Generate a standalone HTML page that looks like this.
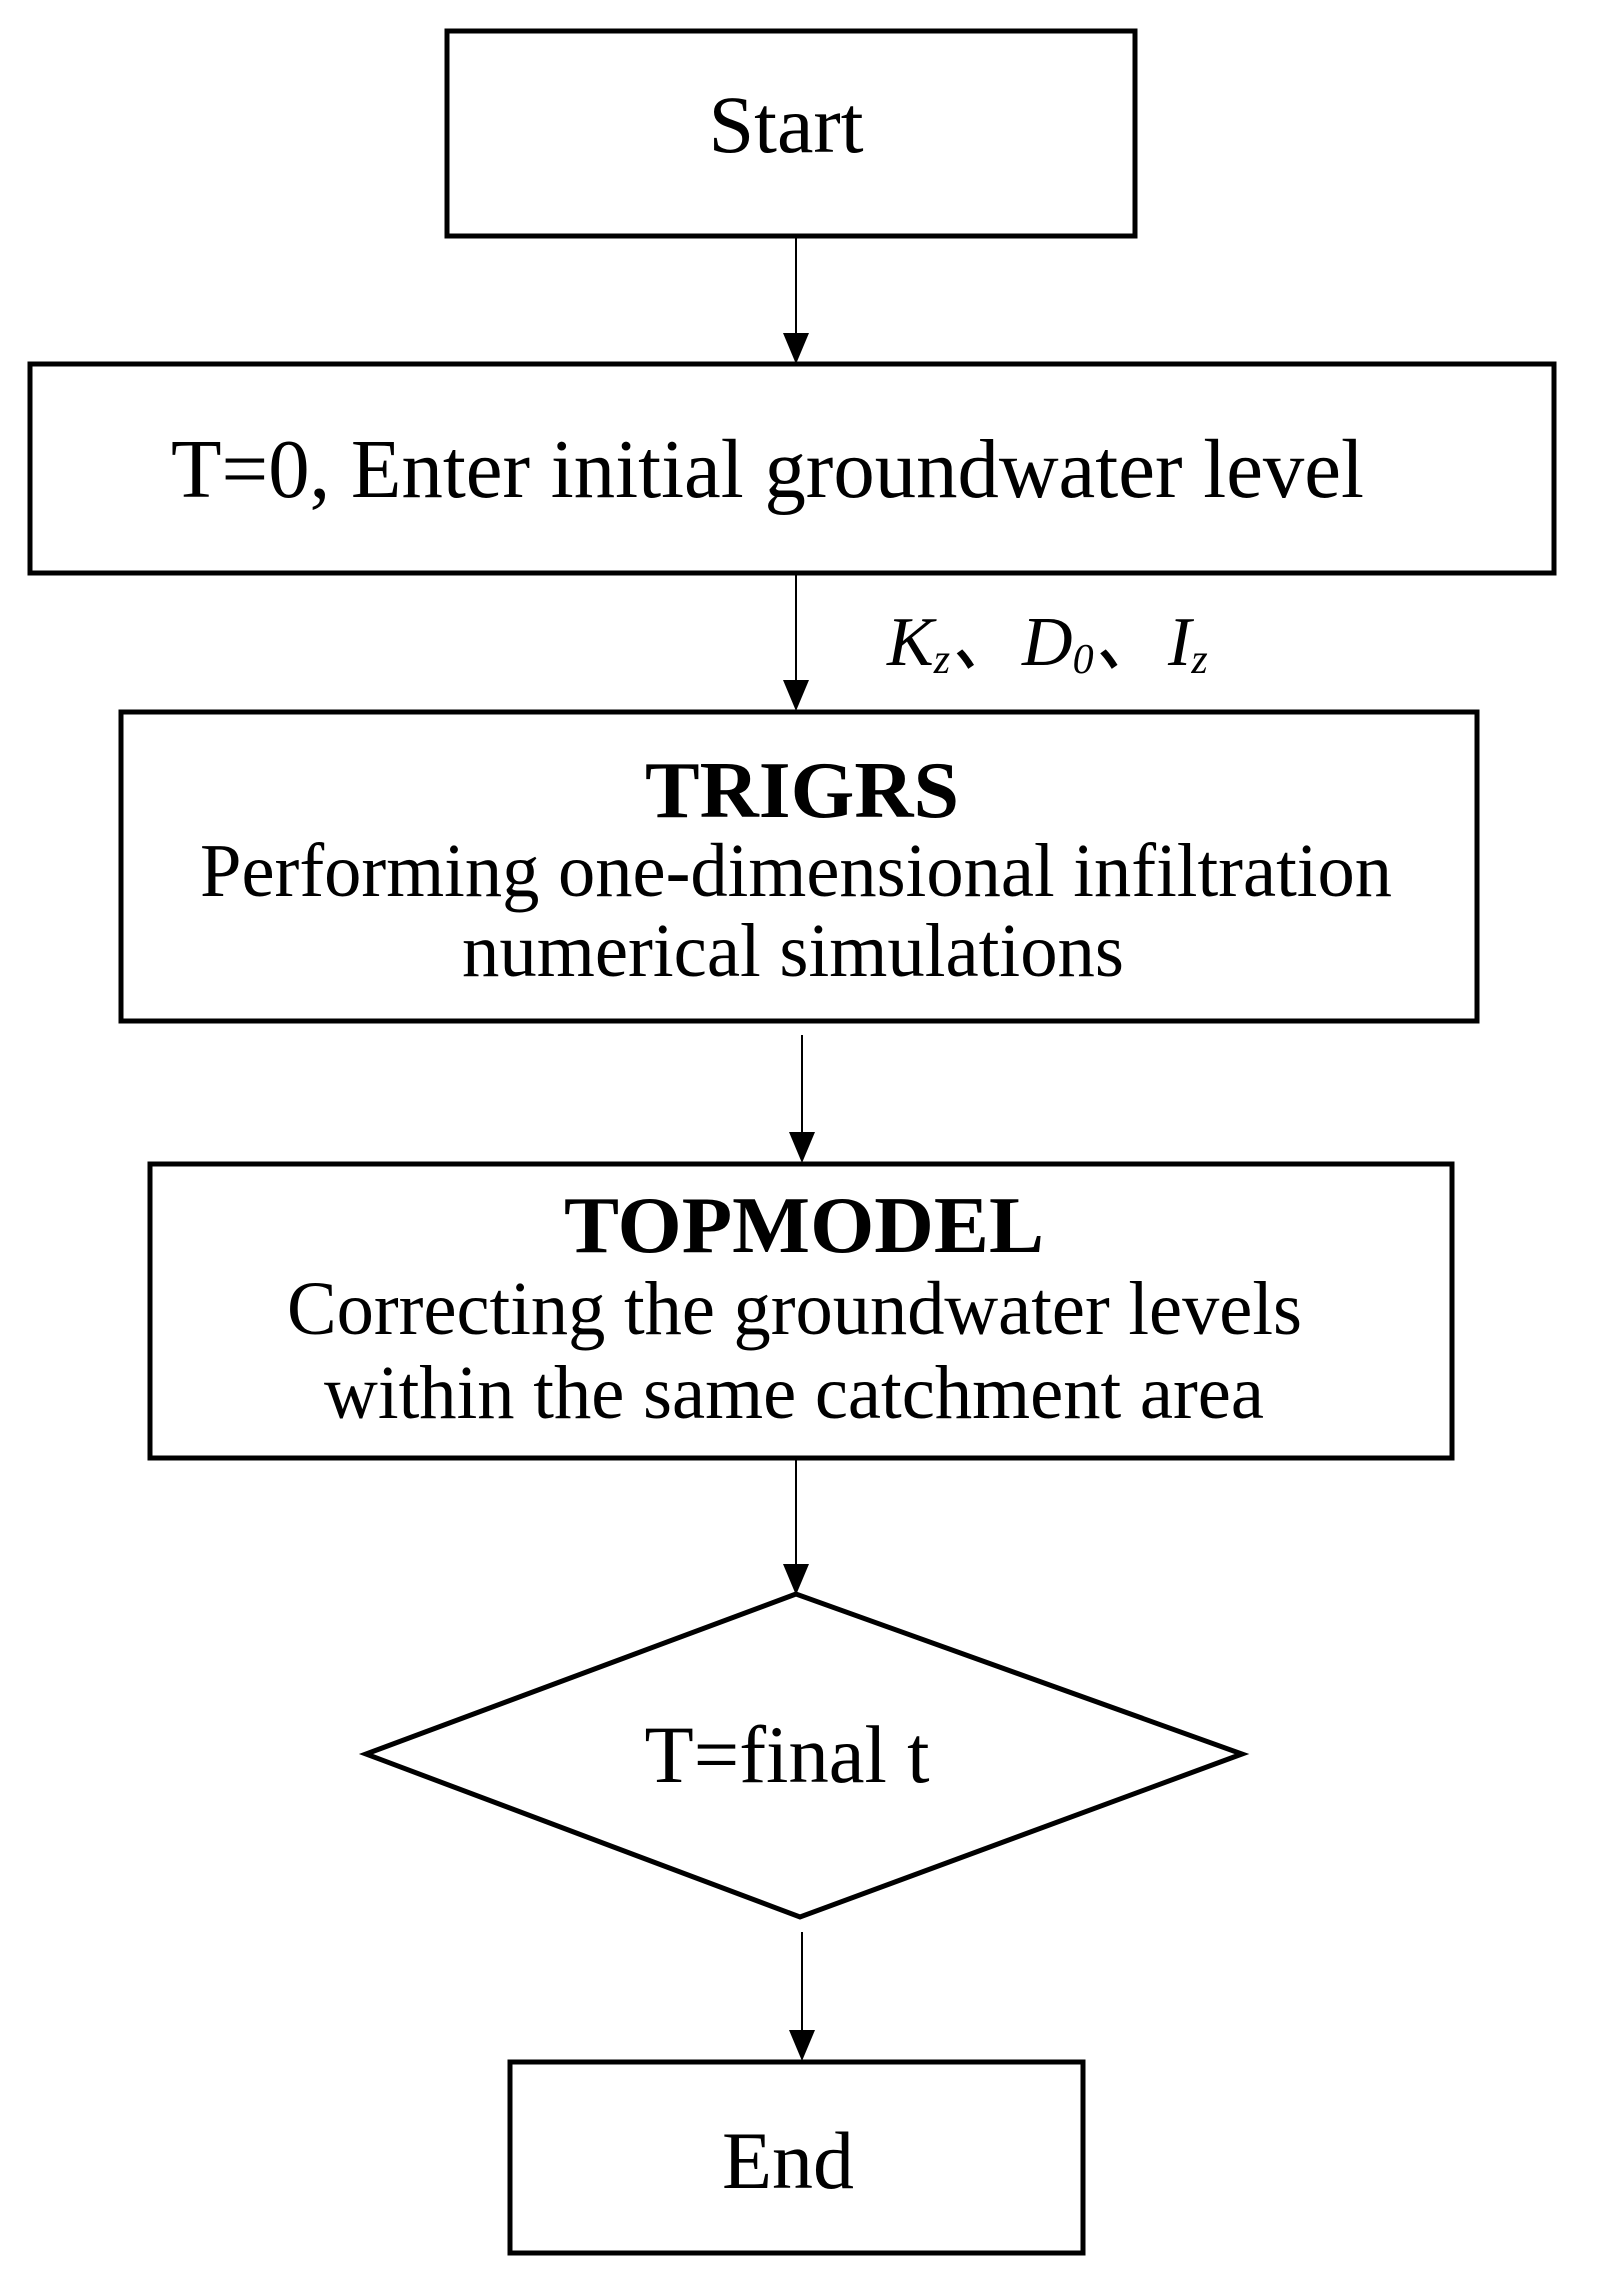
<!DOCTYPE html>
<html><head><meta charset="utf-8"><style>
html,body{margin:0;padding:0;background:#fff;}
svg{display:block;}
text{font-family:"Liberation Serif",serif;fill:#000;}
</style></head><body>
<svg width="1604" height="2291" viewBox="0 0 1604 2291" xmlns="http://www.w3.org/2000/svg">
<g fill="none" stroke="#000" stroke-width="5">
<rect x="447" y="31" width="688" height="205"/>
<rect x="30" y="364" width="1524" height="209"/>
<rect x="121" y="712" width="1356" height="309"/>
<rect x="150" y="1164" width="1302" height="294"/>
<polygon points="796,1594 366,1754 800,1917 1242,1754"/>
<rect x="510" y="2062" width="573" height="191"/>
</g>
<g stroke="#000" stroke-width="2">
<line x1="796" y1="238" x2="796" y2="335"/>
<line x1="796" y1="575" x2="796" y2="682"/>
<line x1="802" y1="1035" x2="802" y2="1134"/>
<line x1="796" y1="1460" x2="796" y2="1566"/>
<line x1="802" y1="1932" x2="802" y2="2032"/>
</g>
<g fill="#000">
<polygon points="783,333 809,333 796,364"/>
<polygon points="783,680 809,680 796,711"/>
<polygon points="789,1132 815,1132 802,1163"/>
<polygon points="783,1564 809,1564 796,1595"/>
<polygon points="789,2030 815,2030 802,2061"/>
</g>
<text x="786" y="152" font-size="82" text-anchor="middle" textLength="155" lengthAdjust="spacingAndGlyphs">Start</text>
<text x="171" y="497" font-size="84" textLength="1193" lengthAdjust="spacingAndGlyphs">T=0, Enter initial groundwater level</text>
<text x="887" y="665" font-size="70" font-style="italic">K<tspan font-size="42" dy="8">z</tspan><tspan dy="-8">、</tspan></text>
<text x="1022" y="665" font-size="70" font-style="italic">D<tspan font-size="42" dy="8">0</tspan><tspan dy="-8">、</tspan></text>
<text x="1168" y="665" font-size="70" font-style="italic">I<tspan font-size="42" dy="8">z</tspan></text>
<text x="802" y="817" font-size="80" font-weight="bold" text-anchor="middle" textLength="314" lengthAdjust="spacingAndGlyphs">TRIGRS</text>
<text x="200" y="896" font-size="76" textLength="1192" lengthAdjust="spacingAndGlyphs">Performing one-dimensional infiltration</text>
<text x="462" y="976" font-size="76" textLength="662" lengthAdjust="spacingAndGlyphs">numerical simulations</text>
<text x="804" y="1252" font-size="80" font-weight="bold" text-anchor="middle" textLength="480" lengthAdjust="spacingAndGlyphs">TOPMODEL</text>
<text x="287" y="1334" font-size="76" textLength="1015" lengthAdjust="spacingAndGlyphs">Correcting the groundwater levels</text>
<text x="324" y="1418" font-size="76" textLength="940" lengthAdjust="spacingAndGlyphs">within the same catchment area</text>
<text x="787" y="1782" font-size="82" text-anchor="middle" textLength="285" lengthAdjust="spacingAndGlyphs">T=final t</text>
<text x="788" y="2188" font-size="82" text-anchor="middle" textLength="132" lengthAdjust="spacingAndGlyphs">End</text>
</svg>
</body></html>
